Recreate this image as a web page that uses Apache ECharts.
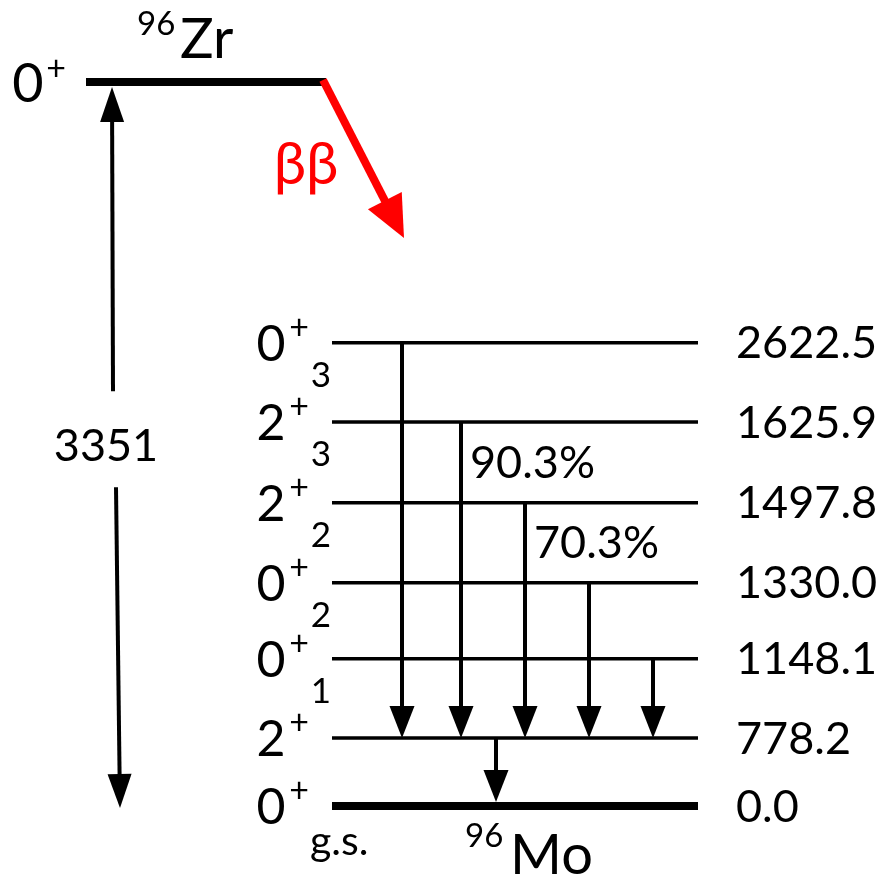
<!DOCTYPE html>
<html>
<head>
<meta charset="utf-8">
<title>96Zr double beta decay to 96Mo</title>
<script src="https://cdn.jsdelivr.net/npm/echarts@6/dist/echarts.min.js"></script>
<style>
  html, body { margin: 0; padding: 0; background: #ffffff; }
  #chart { width: 887px; height: 879px; }
</style>
</head>
<body>
<div id="chart"></div>
<script>
// 96Mo levels (keV), listed from top to bottom
const levelEnergies = ['2622.5', '1625.9', '1497.8', '1330.0', '1148.1', '778.2', '0.0'];
const levelSpins = ['0', '2', '2', '0', '0', '2', '0'];
const levelSubscripts = ['3', '3', '2', '2', '1', '', 'g.s.'];
// schematic drawing height of each level, in rows above the ground state
const levelRows = [5.79, 4.8, 3.79, 2.79, 1.84, 0.85, 0];

// 96Zr parent state
const parentSpin = '0';
const parentRow = 9.05;
const qValue = '3351';

// gamma transitions: initial level, final level, horizontal slot, branching ratio
const gammaFrom = [0, 1, 2, 3, 4, 5];
const gammaTo = [5, 5, 5, 5, 5, 6];
const gammaSlots = [402, 461, 525, 589, 653, 496];
const gammaBranch = ['', '90.3%', '70.3%', '', '', ''];

// horizontal layout of the scheme
const layout = {
  levelX: [332, 698],
  parentX: [86, 323],
  energyX: 736,
  spinX: 271,
  plusX: 299,
  subX: 321,
  gsX: 310,
  qX: [113, 120],
  bbTip: [404, 7.1]
};

const FAMILY = 'Lato, "Open Sans", "DejaVu Sans", sans-serif';
const font = (size) => size + 'px ' + FAMILY;

function text(str, x, y, size, align, color) {
  return {
    type: 'text',
    style: {
      text: str, x: x, y: y, font: font(size), fill: color || '#000000',
      align: align || 'left', verticalAlign: 'middle'
    }
  };
}

function arrow(from, to, lw, headLen, headW, color) {
  const dx = to[0] - from[0], dy = to[1] - from[1];
  const len = Math.hypot(dx, dy);
  const u = [dx / len, dy / len];
  const bx = to[0] - u[0] * headLen, by = to[1] - u[1] * headLen;
  const px = -u[1] * headW / 2, py = u[0] * headW / 2;
  const endX = to[0] - u[0] * headLen * 0.8, endY = to[1] - u[1] * headLen * 0.8;
  return [
    { type: 'line', shape: { x1: from[0], y1: from[1], x2: endX, y2: endY },
      style: { stroke: color, lineWidth: lw, lineCap: 'butt' } },
    { type: 'polygon', shape: { points: [[to[0], to[1]], [bx + px, by + py], [bx - px, by - py]] },
      style: { fill: color } }
  ];
}

const chart = echarts.init(document.getElementById('chart'), null, { renderer: 'canvas' });

const option = {
  animation: false,
  backgroundColor: '#ffffff',
  grid: { left: 0, right: 0, top: 0, bottom: 0 },
  xAxis: { type: 'value', min: 0, max: 887, show: false },
  yAxis: { type: 'value', min: -0.9125, max: 10.075, show: false },
  series: [
    {
      // 96Mo levels with spin-parity and energy labels
      type: 'custom',
      clip: false,
      data: levelRows.map((r) => [layout.levelX[0], r]),
      renderItem: function (params, api) {
        const i = params.dataIndex;
        const row = api.value(1);
        const a = api.coord([layout.levelX[0], row]);
        const b = api.coord([layout.levelX[1], row]);
        const y = a[1];
        const isGround = levelSubscripts[i] === 'g.s.';
        const children = [
          { type: 'line', shape: { x1: a[0], y1: y, x2: b[0], y2: y },
            style: { stroke: '#000000', lineWidth: isGround ? 8 : 3.5 } },
          text(levelEnergies[i], layout.energyX, y + 1, 45),
          text(levelSpins[i], layout.spinX, y + 2, 50, 'center'),
          text('+', layout.plusX, y - 15, 34, 'center')
        ];
        if (isGround) {
          children.push(text(levelSubscripts[i], layout.gsX, y + 36, 41));
        } else if (levelSubscripts[i]) {
          children.push(text(levelSubscripts[i], layout.subX, y + 33, 35, 'center'));
        }
        return { type: 'group', children: children };
      }
    },
    {
      // gamma cascade arrows
      type: 'custom',
      clip: false,
      data: gammaFrom.map((f, k) => [gammaSlots[k], levelRows[f], levelRows[gammaTo[k]]]),
      renderItem: function (params, api) {
        const k = params.dataIndex;
        const x = api.value(0);
        const top = api.coord([x, api.value(1)]);
        const bot = api.coord([x, api.value(2)]);
        const toGround = levelSubscripts[gammaTo[k]] === 'g.s.';
        const tipY = toGround ? bot[1] - 4 : bot[1];
        const children = arrow([top[0], top[1]], [bot[0], tipY], 4, 32, 25, '#000000');
        if (gammaBranch[k]) {
          const next = api.coord([x, levelRows[gammaFrom[k] + 1]]);
          children.push(text(gammaBranch[k], top[0] + 9, (top[1] + next[1]) / 2 + 1, 45));
        }
        return { type: 'group', children: children };
      }
    },
    {
      // 96Zr parent level, double beta branch and Q value
      type: 'custom',
      clip: false,
      data: [[layout.parentX[0], parentRow, 0]],
      renderItem: function (params, api) {
        const row = api.value(1);
        const gsRow = api.value(2);
        const a = api.coord([layout.parentX[0], row]);
        const b = api.coord([layout.parentX[1], row]);
        const y = a[1];
        const mid = (row + gsRow) / 2;
        const qLabel = api.coord([layout.qX[0], mid]);
        const upTail = api.coord([layout.qX[0], mid + 0.66]);
        const downTail = api.coord([layout.qX[0] + 3, mid - 0.54]);
        const gs = api.coord([layout.qX[1], gsRow]);
        const tip = api.coord(layout.bbTip);
        const children = [
          { type: 'line', shape: { x1: a[0], y1: y, x2: b[0] + 3, y2: y },
            style: { stroke: '#000000', lineWidth: 8 } },
          text(parentSpin, 28, y + 3, 54, 'center'),
          text('+', 56, y - 13, 34, 'center'),
          text('96', 137, y - 58, 33),
          text('Zr', 180, y - 42, 56),
          text('\u03b2\u03b2', 306, y + 83, 58, 'center', '#ff0000'),
          text(qValue, qLabel[0] - 7, qLabel[1] + 2, 45, 'center')
        ];
        children.push.apply(children, arrow([b[0], y - 2], tip, 8, 42, 38, '#ff0000'));
        children.push.apply(children, arrow(upTail, [layout.qX[0] - 1, y + 5], 4, 35, 24, '#000000'));
        children.push.apply(children, arrow(downTail, [gs[0], gs[1] + 2], 4, 34, 24, '#000000'));
        // daughter nucleus label below the ground state
        children.push(text('96', 465, gs[1] + 30, 33));
        children.push(text('Mo', 510, gs[1] + 50, 56));
        return { type: 'group', children: children };
      }
    }
  ]
};

chart.setOption(option);
</script>
</body>
</html>
